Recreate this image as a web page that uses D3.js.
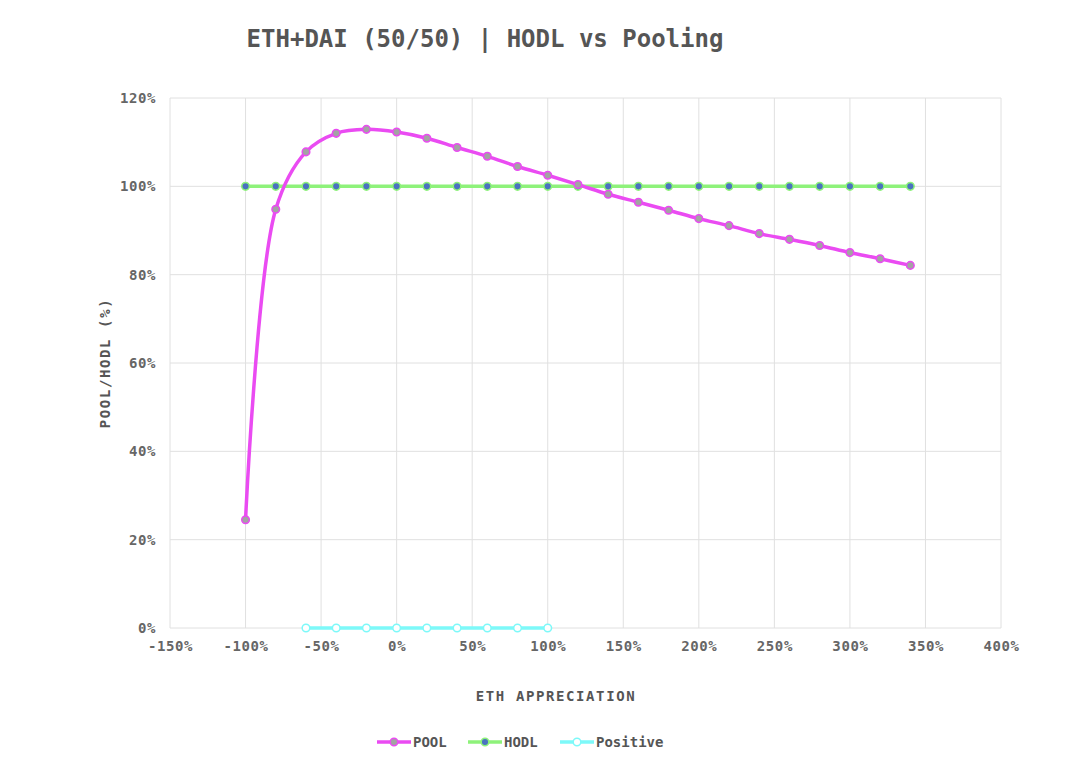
<!DOCTYPE html>
<html><head><meta charset="utf-8">
<script src="https://cdn.jsdelivr.net/npm/d3@7"></script>
<style>
body{margin:0;background:#fff;}
svg text{font-family:"DejaVu Sans Mono",monospace;font-weight:bold;}
</style></head>
<body><svg id="c" width="1080" height="774"></svg>
<script>
const title = "ETH+DAI (50/50) | HODL vs Pooling";
const xTitle = "ETH APPRECIATION";
const yTitle = "POOL/HODL (%)";
const poolX = [-100,-80,-60,-40,-20,0,20,40,60,80,100,120,140,160,180,200,220,240,260,280,300,320,340];
const poolY = [24.5,94.8,107.8,112.0,112.9,112.3,110.9,108.8,106.8,104.5,102.5,100.4,98.2,96.4,94.6,92.7,91.1,89.3,88.0,86.6,85.0,83.6,82.1];
const hodlX = [-100,-80,-60,-40,-20,0,20,40,60,80,100,120,140,160,180,200,220,240,260,280,300,320,340];
const hodlY = [100,100,100,100,100,100,100,100,100,100,100,100,100,100,100,100,100,100,100,100,100,100,100];
const posX = [-60,-40,-20,0,20,40,60,80,100];
const posY = [0,0,0,0,0,0,0,0,0];
const xTicks = [-150,-100,-50,0,50,100,150,200,250,300,350,400];
const yTicks = [0,20,40,60,80,100,120];

const svg = d3.select("#c");
const L=170,R=1001,T=98,B=628;
const x = d3.scaleLinear().domain([-150,400]).range([L,R]);
const y = d3.scaleLinear().domain([0,120]).range([B,T]);

// grid
svg.append("g").selectAll("line").data(xTicks).join("line")
 .attr("x1",d=>x(d)).attr("x2",d=>x(d)).attr("y1",T).attr("y2",B)
 .attr("stroke","#e0e0e0").attr("stroke-width",1);
svg.append("g").selectAll("line").data(yTicks).join("line")
 .attr("x1",L).attr("x2",R).attr("y1",d=>y(d)).attr("y2",d=>y(d))
 .attr("stroke","#e0e0e0").attr("stroke-width",1);

// axes labels
const xAxis = d3.axisBottom(x).tickValues(xTicks).tickSize(0).tickPadding(13).tickFormat(d=>d+"%");
const gx = svg.append("g").attr("transform",`translate(0,${B})`).call(xAxis);
gx.select(".domain").remove();
gx.selectAll("text").attr("fill","#666").attr("font-size",14).attr("letter-spacing",0.6);
const yAxis = d3.axisLeft(y).tickValues(yTicks).tickSize(0).tickPadding(14).tickFormat(d=>d+"%");
const gy = svg.append("g").attr("transform",`translate(${L},0)`).call(yAxis);
gy.select(".domain").remove();
gy.selectAll("text").attr("fill","#666").attr("font-size",14).attr("letter-spacing",0.6);

// titles
svg.append("text").attr("x",485).attr("y",47).attr("text-anchor","middle")
 .attr("font-size",24).attr("fill","#555").text(title);
svg.append("text").attr("x",556).attr("y",701).attr("text-anchor","middle")
 .attr("font-size",14).attr("letter-spacing",1.6).attr("fill","#555").text(xTitle);
svg.append("text").attr("transform","translate(110,363) rotate(-90)").attr("text-anchor","middle")
 .attr("font-size",14).attr("letter-spacing",1.6).attr("fill","#555").text(yTitle);

function series(xs,ys,color,fill,curve){
  const pts = xs.map((d,i)=>[d,ys[i]]);
  const line = d3.line().x(d=>x(d[0])).y(d=>y(d[1])).curve(curve);
  svg.append("path").attr("d",line(pts)).attr("fill","none").attr("stroke",color).attr("stroke-width",3.5);
  svg.append("g").selectAll("circle").data(pts).join("circle")
   .attr("cx",d=>x(d[0])).attr("cy",d=>y(d[1])).attr("r",3.8)
   .attr("fill",fill).attr("stroke",color).attr("stroke-width",1.5);
}
series(posX,posY,"#7df9f9","#ffffff",d3.curveLinear);
series(hodlX,hodlY,"#8ef27a","#4a72c0",d3.curveLinear);
series(poolX,poolY,"#ea4bf2","#a3a3a3",d3.curveCatmullRom.alpha(0.5));

// legend
const leg = [
 {name:"POOL",color:"#ea4bf2",fill:"#a3a3a3",x:377},
 {name:"HODL",color:"#8ef27a",fill:"#4a72c0",x:468},
 {name:"Positive",color:"#7df9f9",fill:"#ffffff",x:560}
];
const lg = svg.append("g").selectAll("g").data(leg).join("g").attr("transform",d=>`translate(${d.x},742)`);
lg.append("line").attr("x1",0).attr("x2",34).attr("stroke",d=>d.color).attr("stroke-width",3.5);
lg.append("circle").attr("cx",17).attr("r",3.8).attr("fill",d=>d.fill).attr("stroke",d=>d.color).attr("stroke-width",1.5);
lg.append("text").attr("x",36).attr("y",5).attr("font-size",14).attr("fill","#555").text(d=>d.name);
</script></body></html>
